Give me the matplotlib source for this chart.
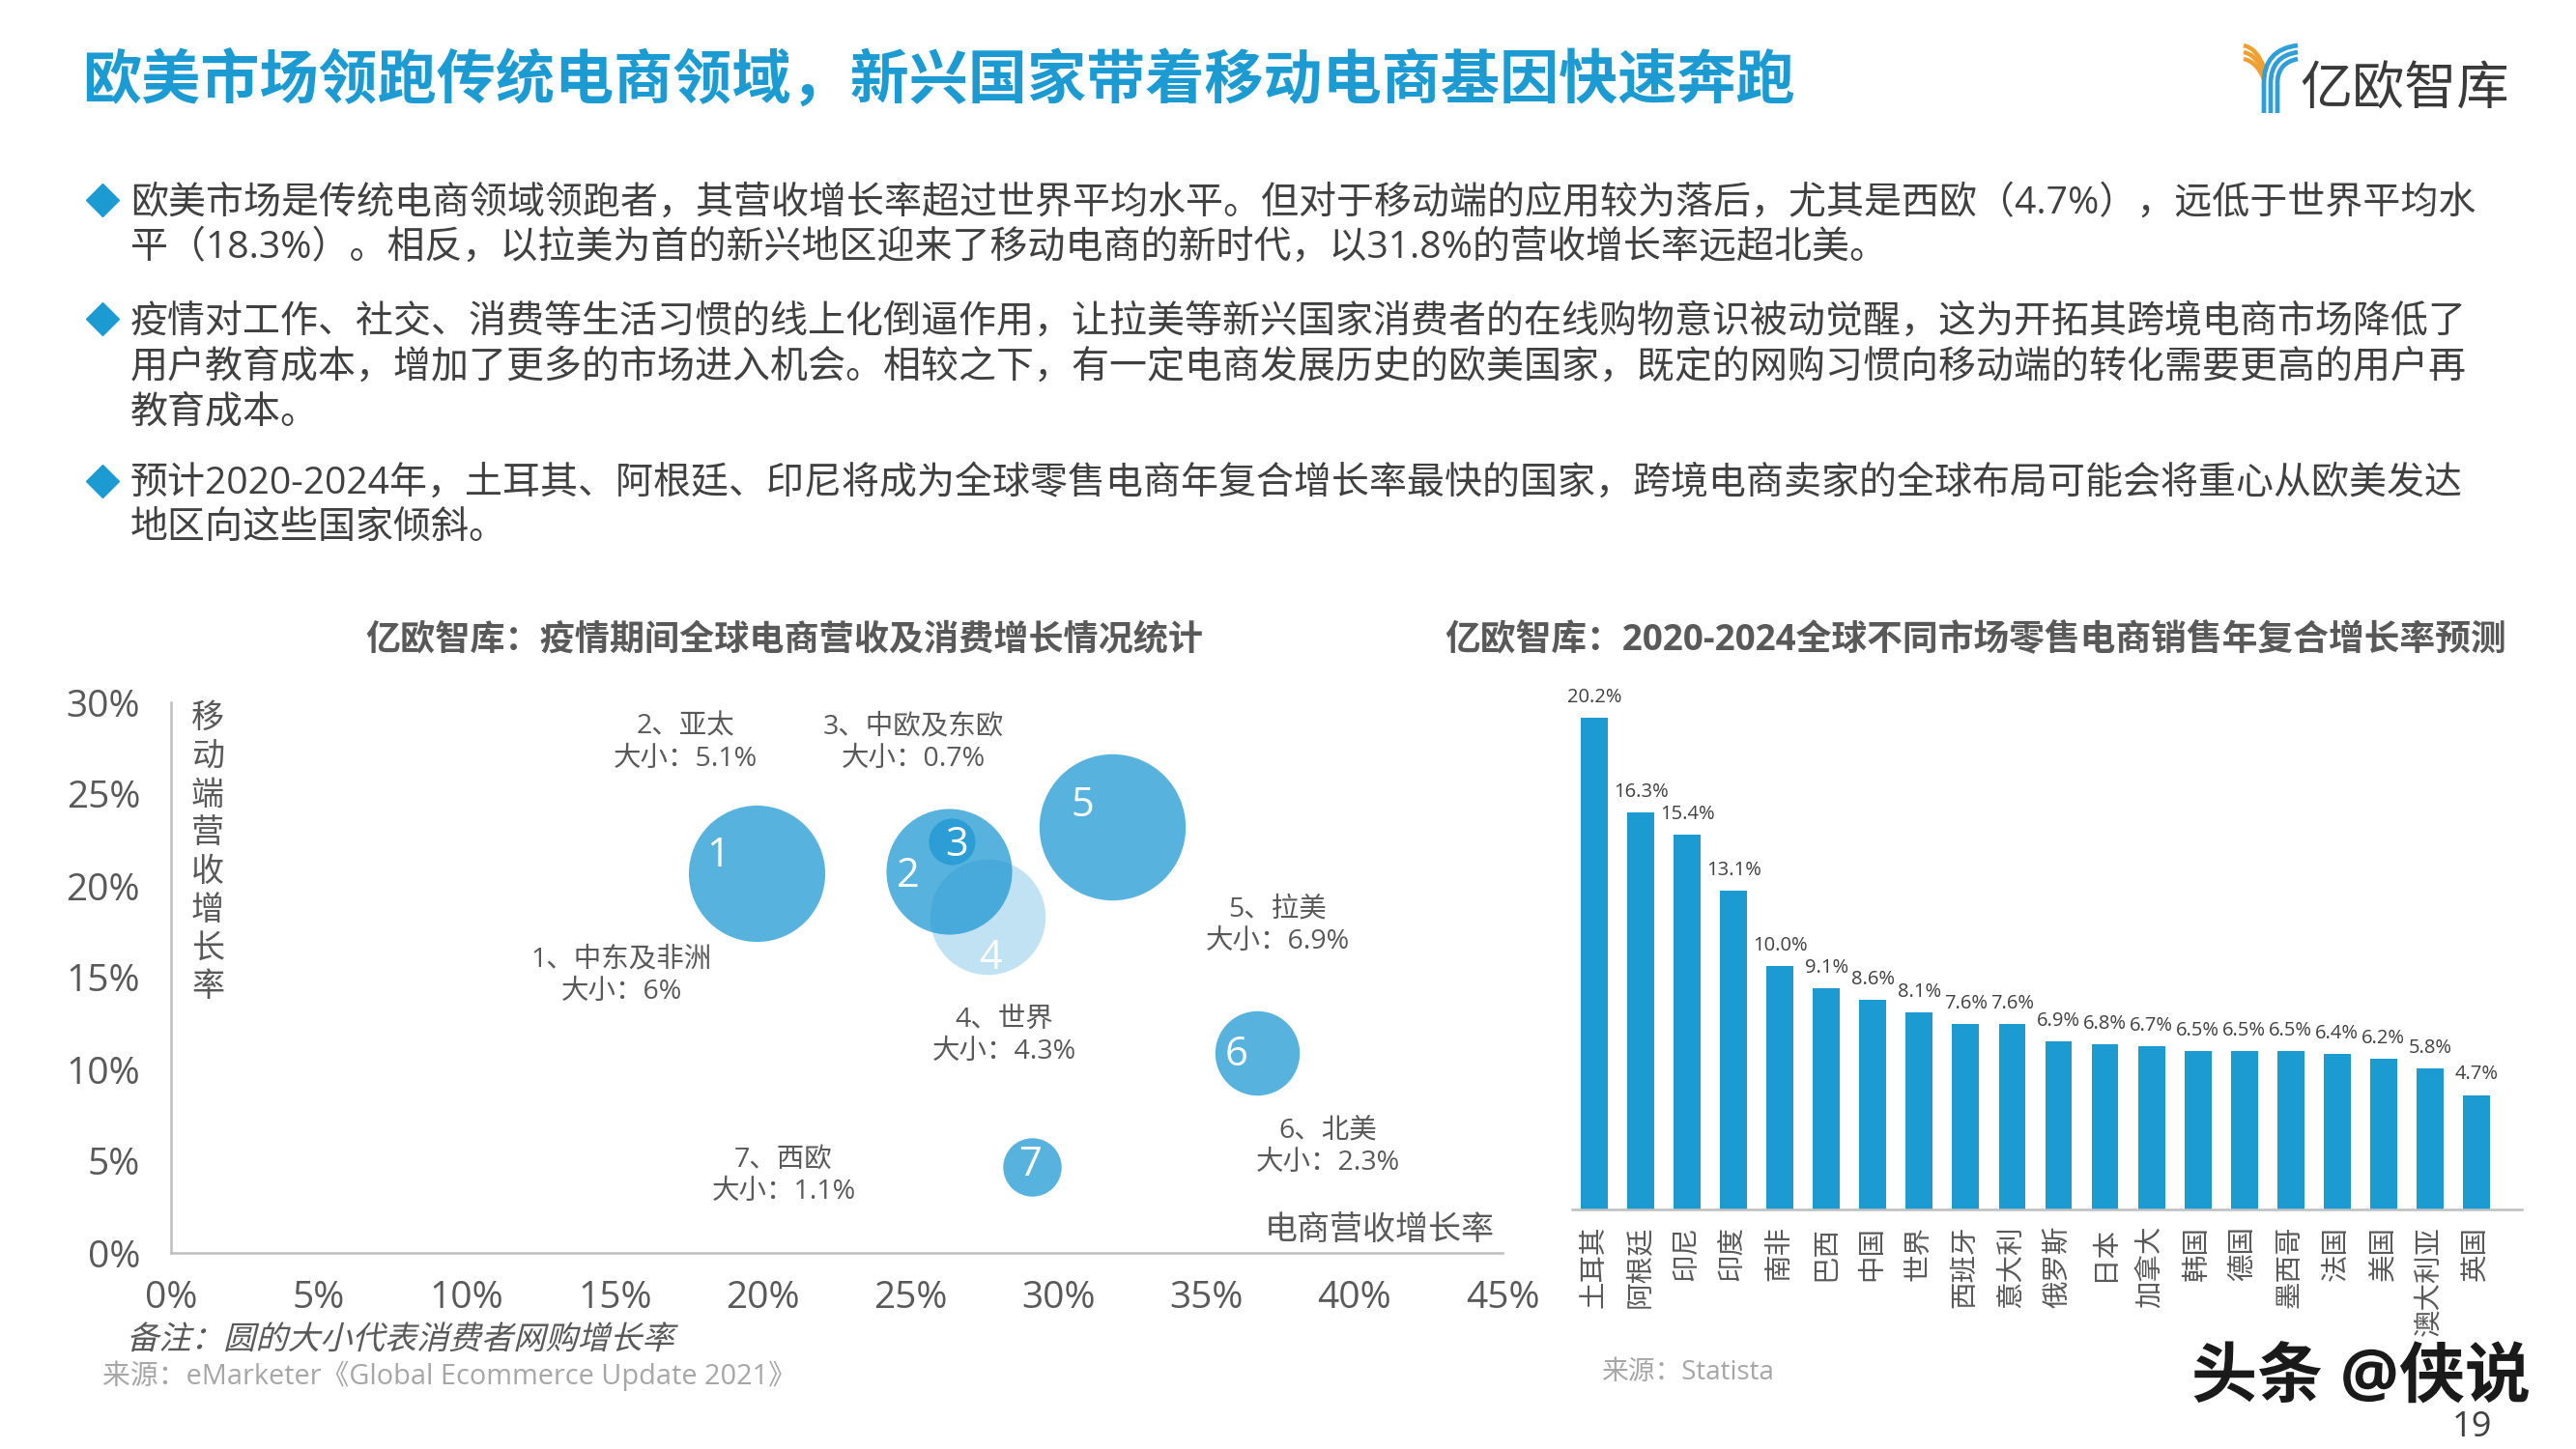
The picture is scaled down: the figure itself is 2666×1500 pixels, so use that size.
import matplotlib
matplotlib.use('Agg')
import matplotlib.pyplot as plt
import matplotlib.patheffects as pe
from matplotlib.path import Path
from matplotlib.patches import PathPatch
from matplotlib.transforms import Affine2D

plt.rcParams['font.family'] = ['Open Sans', 'Noto Sans CJK SC', 'DejaVu Sans']

# scatter data: revenue growth, mobile growth, online shopper growth (bubble size)
regions = ['中东及非洲', '亚太', '中欧及东欧', '世界', '拉美', '北美', '西欧']
revenue_growth = [19.8, 26.3, 26.4, 27.6, 31.8, 36.7, 29.1]
mobile_growth = [20.7, 20.8, 22.4, 18.3, 23.2, 10.9, 4.7]
bubble_size = [6, 5.1, 0.7, 4.3, 6.9, 2.3, 1.1]
size_labels = ['6%', '5.1%', '0.7%', '4.3%', '6.9%', '2.3%', '1.1%']

# bar data
countries = ['土耳其', '阿根廷', '印尼', '印度', '南非', '巴西', '中国', '世界', '西班牙', '意大利', '俄罗斯',
             '日本', '加拿大', '韩国', '德国', '墨西哥', '法国', '美国', '澳大利亚', '英国']
cagr = [20.2, 16.3, 15.4, 13.1, 10.0, 9.1, 8.6, 8.1, 7.6, 7.6, 6.9, 6.8, 6.7, 6.5, 6.5, 6.5, 6.4, 6.2, 5.8, 4.7]

title = '欧美市场领跑传统电商领域，新兴国家带着移动电商基因快速奔跑'
body_lines = [
    '欧美市场是传统电商领域领跑者，其营收增长率超过世界平均水平。但对于移动端的应用较为落后，尤其是西欧（4.7%），远低于世界平均水',
    '平（18.3%）。相反，以拉美为首的新兴地区迎来了移动电商的新时代，以31.8%的营收增长率远超北美。',
    '疫情对工作、社交、消费等生活习惯的线上化倒逼作用，让拉美等新兴国家消费者的在线购物意识被动觉醒，这为开拓其跨境电商市场降低了',
    '用户教育成本，增加了更多的市场进入机会。相较之下，有一定电商发展历史的欧美国家，既定的网购习惯向移动端的转化需要更高的用户再',
    '教育成本。',
    '预计2020-2024年，土耳其、阿根廷、印尼将成为全球零售电商年复合增长率最快的国家，跨境电商卖家的全球布局可能会将重心从欧美发达',
    '地区向这些国家倾斜。',
]
body_y = [211, 257, 334, 381, 427, 501, 547]
bullet_y = [207, 330, 498]

W, H = 2666, 1500
BLUE = '#1C9BD2'
DARK = '#404040'
GREY = '#595959'
LIGHT = '#A6A6A6'


class Slant(pe.AbstractPathEffect):
    # fake italic, the CJK fonts have no oblique face
    def draw_path(self, renderer, gc, tpath, affine, rgbFace=None):
        renderer.draw_path(gc, tpath, Affine2D().skew_deg(14, 0) + affine, rgbFace)


def axes_rect(x0, y0, x1, y1):
    # pixel box (y from top) to figure fractions
    return [x0 / W, 1 - y1 / H, (x1 - x0) / W, (y1 - y0) / H]


fig = plt.figure(figsize=(26.66, 15), dpi=100, facecolor='white')

# page layer in pixel coordinates
page = fig.add_axes([0, 0, 1, 1])
page.set_xlim(0, W)
page.set_ylim(H, 0)
page.axis('off')

page.text(85, 87, title, fontsize=44, fontweight='bold', color=BLUE, va='center')
for line, y in zip(body_lines, body_y):
    page.text(135, y, line, fontsize=28.05, color=DARK, va='center')
page.plot([106] * len(bullet_y), bullet_y, 'D', ms=17, color=BLUE, ls='none')

# logo
for y0, y1 in [(47, 70), (54, 76), (61, 82)]:
    path = Path([(2322, y0), (2336, y0 + 3), (2343, y1)], [Path.MOVETO, Path.CURVE3, Path.CURVE3])
    page.add_patch(PathPatch(path, fc='none', ec='#F0A030', lw=3.2))
for x0, y0 in [(2343, 47), (2350, 54), (2357, 61)]:
    path = Path([(x0, 117), (x0, 86), (x0, y0 + 4), (2378, y0)],
                [Path.MOVETO, Path.LINETO, Path.CURVE3, Path.CURVE3])
    page.add_patch(PathPatch(path, fc='none', ec='#2E9FD8', lw=3.4))
page.text(2380, 95, '亿欧智库', fontsize=39, color='#3A3A3A', va='center', fontweight='light')

page.text(812, 663, '亿欧智库：疫情期间全球电商营收及消费增长情况统计', fontsize=26, fontweight='bold',
          color=GREY, ha='center', va='center')
page.text(2045, 663, '亿欧智库：2020-2024全球不同市场零售电商销售年复合增长率预测', fontsize=26.5, fontweight='bold',
          color=GREY, ha='center', va='center')

page.text(215, 727, '\n'.join('移动端营收增长率'), fontsize=24.5, color=GREY, ha='center', va='top', linespacing=1.22)
page.text(1547, 1274, '电商营收增长率', fontsize=24.5, color=GREY, ha='right', va='center')
page.text(131, 1388, '备注：圆的大小代表消费者网购增长率', fontsize=24, color=GREY, va='center',
          path_effects=[Slant()])
page.text(106, 1424, '来源：eMarketer《Global Ecommerce Update 2021》', fontsize=20.75, color=LIGHT, va='center')
page.text(1657, 1421, '来源：Statista', fontsize=20, color=LIGHT, va='center')
page.text(2268, 1428, '头条 @侠说', fontsize=49, color='#1A1A1A', va='center', fontweight='bold',
          path_effects=[pe.withStroke(linewidth=3, foreground='white')])
page.text(2558, 1478, '19', fontsize=26, color=DARK, ha='center', va='center')

# bubble chart
ax = fig.add_axes(axes_rect(177, 727, 1555, 1297))
ax.patch.set_alpha(0)
ax.set_xlim(0, 45)
ax.set_ylim(0, 30)
alphas = [0.75, 0.75, 0.75, 0.28, 0.75, 0.75, 0.75]
for i in range(len(regions)):
    ax.scatter(revenue_growth[i], mobile_growth[i], s=1721 * bubble_size[i], color='#1F98D3', alpha=alphas[i],
               linewidths=0, zorder=2 + (i == 2) * 2)
number_offset = [(-40, 18), (-42, -5), (5, -4), (3, -43), (-31, 22), (-21, -2), (-2, 2)]
for i in range(len(regions)):
    dx, dy = number_offset[i]
    ax.annotate(str(i + 1), (revenue_growth[i], mobile_growth[i]), xytext=(dx * 0.72, dy * 0.72),
                textcoords='offset points', ha='center', va='center', fontsize=30, color='white', zorder=5)

label_pos = [(643, 1010), (709, 769), (945, 769), (1039, 1072), (1322, 958), (1374, 1187), (811, 1217)]
for i in range(len(regions)):
    page.text(label_pos[i][0], label_pos[i][1], f'{i + 1}、{regions[i]}\n大小：{size_labels[i]}', fontsize=20.5,
              color=GREY, ha='center', va='center', linespacing=1.25)

for side in ['top', 'right']:
    ax.spines[side].set_visible(False)
for side in ['left', 'bottom']:
    ax.spines[side].set_color('#BFBFBF')
    ax.spines[side].set_linewidth(1.8)
ax.set_xticks(range(0, 46, 5))
ax.set_yticks(range(0, 31, 5))
ax.set_xticklabels([f'{t}%' for t in range(0, 46, 5)])
ax.set_yticklabels([f'{t}%' for t in range(0, 31, 5)])
ax.tick_params(axis='both', length=0, labelsize=28, labelcolor=GREY)
ax.tick_params(axis='x', pad=20)
ax.tick_params(axis='y', pad=23)

# bar chart
ax2 = fig.add_axes(axes_rect(1627, 727, 2610, 1252))
ax2.patch.set_alpha(0)
x = list(range(len(countries)))
ax2.bar(x, cagr, width=0.58, color=BLUE)
ax2.set_xlim(-0.48, 19.98)
ax2.set_ylim(0, 20.83)
for i, v in zip(x, cagr):
    ax2.annotate(f'{v:.1f}%', (i, v), xytext=(0, 8), textcoords='offset points', ha='center', va='bottom',
                 fontsize=14.5, color=DARK)
for side in ['top', 'right', 'left']:
    ax2.spines[side].set_visible(False)
ax2.spines['bottom'].set_color('#BFBFBF')
ax2.spines['bottom'].set_linewidth(1.8)
ax2.set_yticks([])
ax2.set_xticks(x)
ax2.set_xticklabels(countries, rotation=90, fontsize=20.5, color=GREY)
ax2.tick_params(axis='x', length=0, pad=12)

fig.savefig('out.png', dpi=100)
